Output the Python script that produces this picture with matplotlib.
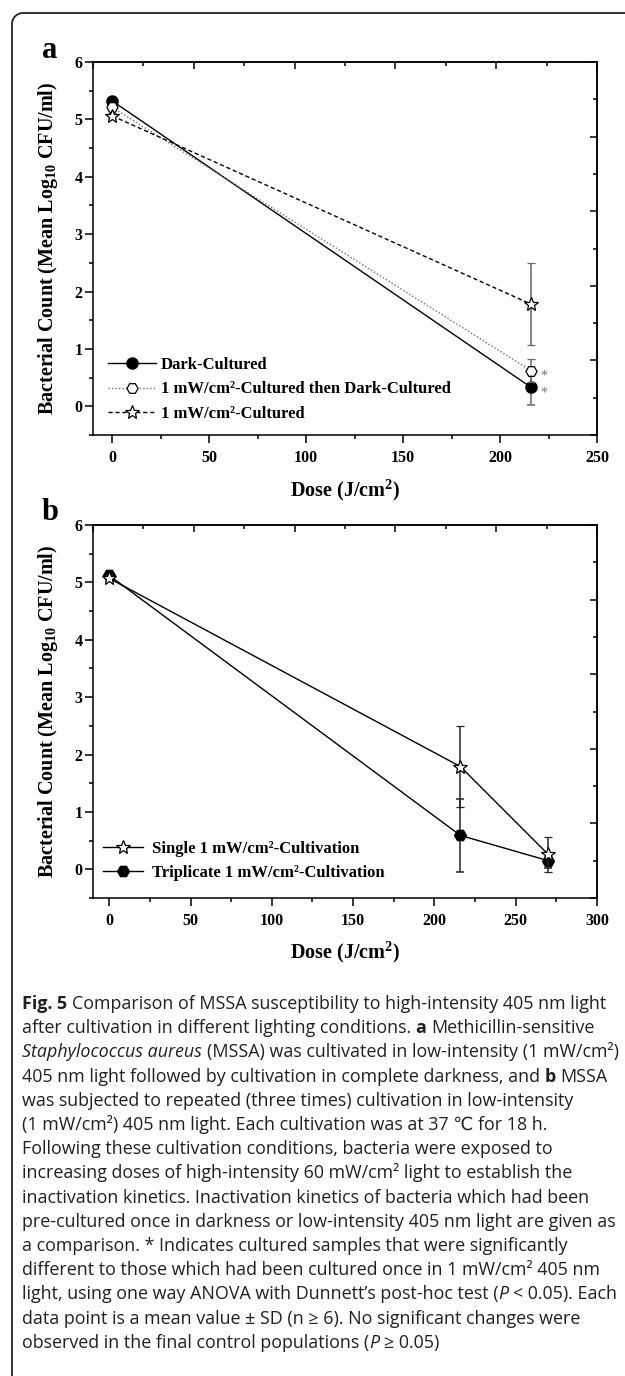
import matplotlib
matplotlib.use('Agg')
import numpy as np
import matplotlib.pyplot as plt
from matplotlib.ticker import MultipleLocator, NullFormatter
from matplotlib.lines import Line2D

# ---------------- data ----------------
a_dose = [0, 216]
a_dark = [5.32, 0.33]
a_dark_sd = [0.04, 0.31]
a_lcd = [5.21, 0.62]
a_lcd_sd = [0.04, 0.20]
a_lc = [5.06, 1.78]
a_lc_sd = [0.05, 0.71]
a_labels = ['Dark-Cultured',
            '1 mW/cm\u00b2-Cultured then Dark-Cultured',
            '1 mW/cm\u00b2-Cultured']

b_dose = [0, 216, 270]
b_single = [5.07, 1.79, 0.26]
b_single_sd = [0.05, 0.71, 0.30]
b_trip = [5.12, 0.59, 0.15]
b_trip_sd = [0.04, 0.63, 0.13]
b_labels = ['Single 1 mW/cm\u00b2-Cultivation',
            'Triplicate 1 mW/cm\u00b2-Cultivation']

ylabel = 'Bacterial Count (Mean Log$_{10}$ CFU/ml)'
xlabel = 'Dose (J/cm$^{2}$)'

caption = [
    [("Fig. 5", 'b'), (" Comparison of MSSA susceptibility to high-intensity 405 nm light", 'n')],
    [("after cultivation in different lighting conditions. ", 'n'), ("a", 'b'), (" Methicillin-sensitive", 'n')],
    [("Staphylococcus aureus", 'i'), (" (MSSA) was cultivated in low-intensity (1 mW/cm\u00b2)", 'n')],
    [("405 nm light followed by cultivation in complete darkness, and ", 'n'), ("b", 'b'), (" MSSA", 'n')],
    [("was subjected to repeated (three times) cultivation in low-intensity", 'n')],
    [("(1 mW/cm\u00b2) 405 nm light. Each cultivation was at 37 \u2103 for 18 h.", 'n')],
    [("Following these cultivation conditions, bacteria were exposed to", 'n')],
    [("increasing doses of high-intensity 60 mW/cm\u00b2 light to establish the", 'n')],
    [("inactivation kinetics. Inactivation kinetics of bacteria which had been", 'n')],
    [("pre-cultured once in darkness or low-intensity 405 nm light are given as", 'n')],
    [("a comparison. * Indicates cultured samples that were significantly", 'n')],
    [("different to those which had been cultured once in 1 mW/cm\u00b2 405 nm", 'n')],
    [("light, using one way ANOVA with Dunnett\u2019s post-hoc test (", 'n'), ("P", 'i'), (" < 0.05). Each", 'n')],
    [("data point is a mean value \u00b1 SD (n \u2265 6). No significant changes were", 'n')],
    [("observed in the final control populations (", 'n'), ("P", 'i'), (" \u2265 0.05)", 'n')],
]

# ---------------- figure ----------------
W, H = 625, 1376
plt.rcParams['mathtext.fontset'] = 'custom'
plt.rcParams['mathtext.rm'] = 'Liberation Serif:bold'
plt.rcParams['mathtext.bf'] = 'Liberation Serif:bold'
plt.rcParams['mathtext.it'] = 'Liberation Serif:bold:italic'
plt.rcParams['font.family'] = ['Liberation Serif', 'DejaVu Serif']
plt.rcParams['font.weight'] = 'bold'

fig = plt.figure(figsize=(W / 100, H / 100), dpi=100)

def px_rect(l, t, r, b):
    return [l / W, 1 - b / H, (r - l) / W, (b - t) / H]

# frame (rounded top-left corner, open to the right and bottom)
r = 11.0
ang = np.linspace(np.pi, np.pi / 2, 20)
fx = np.concatenate([[12, 12], 12 + r + r * np.cos(ang), [W + 10]])
fy = np.concatenate([[H + 10, 13 + r], 13 + r - r * np.sin(ang), [13]])
fig.add_artist(Line2D(fx / W, 1 - fy / H, transform=fig.transFigure,
                      color='#222222', lw=1.3))

TICK_FS = 11.5
LAB_FS = 14.5
LEG_FS = 12

def style_axes(ax, xlim, ylim):
    ax.set_xlim(*xlim)
    ax.set_ylim(*ylim)
    ax.xaxis.set_major_locator(MultipleLocator(50))
    ax.xaxis.set_minor_locator(MultipleLocator(25))
    ax.yaxis.set_major_locator(MultipleLocator(1))
    ax.yaxis.set_minor_locator(MultipleLocator(0.5))
    for s in ax.spines.values():
        s.set_linewidth(1.1)
    ax.tick_params(which='both', direction='out', top=False, right=False, width=1.1)
    ax.tick_params(which='major', length=5.5)
    ax.tick_params(which='minor', length=3)
    ax.tick_params(axis='x', which='major', pad=5, labelsize=TICK_FS)
    ax.tick_params(axis='y', which='major', pad=2, labelsize=TICK_FS)
    for lab in ax.get_xticklabels() + ax.get_yticklabels():
        lab.set_fontweight('bold')
    x0, x1 = xlim
    y0, y1 = ylim
    secx = ax.secondary_xaxis('top', functions=(lambda x: (x - x0) / (x1 - x0) * 10,
                                                lambda u: x0 + u / 10 * (x1 - x0)))
    secy = ax.secondary_yaxis('right', functions=(lambda y: (y - y0) / (y1 - y0) * 10,
                                                  lambda u: y0 + u / 10 * (y1 - y0)))
    for sec, axis in ((secx, secx.xaxis), (secy, secy.yaxis)):
        axis.set_major_locator(MultipleLocator(2))
        axis.set_minor_locator(MultipleLocator(1))
        axis.set_major_formatter(NullFormatter())
        axis.set_minor_formatter(NullFormatter())
        sec.tick_params(which='both', direction='in', width=1.1)
        sec.tick_params(which='major', length=5)
        sec.tick_params(which='minor', length=3)
        for s in sec.spines.values():
            s.set_linewidth(1.1)
    ax.set_ylabel(ylabel, fontsize=LAB_FS, fontweight='bold')
    ax.set_xlabel(xlabel, fontsize=LAB_FS, fontweight='bold')
    ax.yaxis.set_label_coords(-0.089, 0.5)
    ax.xaxis.label.set_va('center')
    ax.yaxis.label.set_va('center')

# ---------------- panel a ----------------
axa = fig.add_axes(px_rect(93, 62, 597, 435))
style_axes(axa, (-10, 250), (-0.5, 6))
axa.xaxis.set_label_coords(0.5, (435 - 490) / 373)

ms = 8
h1 = axa.errorbar(a_dose, a_dark, yerr=a_dark_sd, color='black', ecolor='0.4',
                  elinewidth=1.1, capsize=3, capthick=1.1, marker='o', ms=ms,
                  mfc='black', mec='black', lw=1.0, ls='-', zorder=3)
h2 = axa.errorbar(a_dose, a_lcd, yerr=a_lcd_sd, color='0.45', ecolor='0.4',
                  elinewidth=1.1, capsize=3, capthick=1.1, marker='H', ms=ms,
                  mfc='white', mec='black', mew=0.9, lw=1.0, ls=(0, (1, 1.5)), zorder=4)
h3 = axa.errorbar(a_dose, a_lc, yerr=a_lc_sd, color='black', ecolor='0.4',
                  elinewidth=1.1, capsize=3, capthick=1.1, marker='*', ms=ms + 2,
                  mfc='white', mec='black', mew=0.9, lw=1.0, ls=(0, (3, 2)), zorder=5)
for yv in (a_dark[1], a_lcd[1]):
    axa.annotate('*', xy=(a_dose[1], yv), xytext=(7, -4), textcoords='offset points',
                 fontsize=10, color='0.45', fontweight='normal', va='center', ha='left')

axa.legend([h1[0], h2[0], h3[0]], a_labels, loc='upper left',
           bbox_to_anchor=(0.03, (435 - 357) / 373), frameon=False,
           handlelength=2.9, handletextpad=0.25,
           labelspacing=0.5, borderaxespad=0, borderpad=0,
           prop={'weight': 'bold', 'size': LEG_FS})

fig.text(50 / W, 1 - 50 / H, 'a', fontsize=22, fontweight='bold', ha='center', va='center')

# ---------------- panel b ----------------
axb = fig.add_axes(px_rect(93, 525, 597, 898))
style_axes(axb, (-10, 300), (-0.5, 6))
axb.xaxis.set_label_coords(0.5, (898 - 952) / 373)

g1 = axb.errorbar(b_dose, b_single, yerr=b_single_sd, color='black', ecolor='0.15',
                  elinewidth=1.1, capsize=3, capthick=1.1, marker='*', ms=ms + 2,
                  mfc='white', mec='black', mew=0.9, lw=1.0, ls='-', zorder=4)
g2 = axb.errorbar(b_dose, b_trip, yerr=b_trip_sd, color='black', ecolor='0.15',
                  elinewidth=1.1, capsize=3, capthick=1.1, marker='H', ms=ms + 0.5,
                  mfc='black', mec='black', lw=1.0, ls='-', zorder=3)
axb.legend([g1[0], g2[0]], b_labels, loc='upper left',
           bbox_to_anchor=(0.02, (898 - 841) / 373), frameon=False,
           handlelength=2.4, handletextpad=0.55,
           labelspacing=0.47, borderaxespad=0, borderpad=0,
           prop={'weight': 'bold', 'size': LEG_FS})

fig.text(50 / W, 1 - 512 / H, 'b', fontsize=22, fontweight='bold', ha='center', va='center')

# ---------------- caption ----------------
renderer = fig.canvas.get_renderer()
CAP_FAM = ['Open Sans', 'DejaVu Sans']
CAP_COLOR = '#231f20'

def kw_for(style, size):
    kw = dict(fontsize=size, family=CAP_FAM, color=CAP_COLOR, fontweight='normal')
    if style == 'b':
        kw['fontweight'] = 'bold'
    if style == 'i':
        kw['fontstyle'] = 'italic'
    return kw

def text_w(s, kw):
    t = fig.text(0, 0, s, **kw)
    w = t.get_window_extent(renderer).width
    t.remove()
    return w

def line_width(segs, size):
    total = 0
    for s, st in segs:
        kw = kw_for(st, size)
        sp = text_w('n n', kw) - text_w('nn', kw)
        lead = len(s) - len(s.lstrip(' '))
        trail = len(s) - len(s.rstrip(' '))
        total += (lead + trail) * sp + text_w(s.strip(' '), kw)
    return total

target = 587.0
base = 10.0
cap_size = base * target / line_width(caption[0], base)

def draw_line(x, y, segs, size):
    for s, st in segs:
        kw = kw_for(st, size)
        sp = text_w('n n', kw) - text_w('nn', kw)
        lead = len(s) - len(s.lstrip(' '))
        trail = len(s) - len(s.rstrip(' '))
        core = s.strip(' ')
        x += lead * sp
        fig.text(x / W, 1 - y / H, core, ha='left', va='baseline', **kw)
        x += text_w(core, kw) + trail * sp

y0 = 1009
dy = 24.2
for i, segs in enumerate(caption):
    draw_line(22, y0 + i * dy, segs, cap_size)

fig.savefig('out.png', dpi=100)
